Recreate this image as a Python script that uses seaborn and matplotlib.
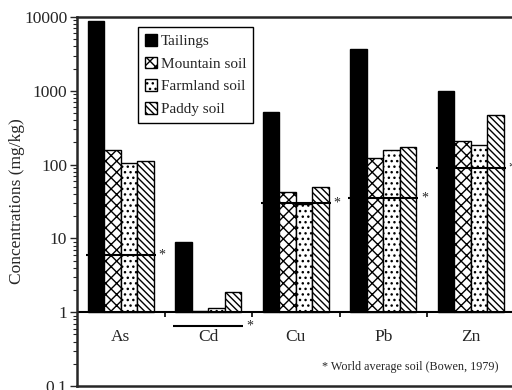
import matplotlib
matplotlib.use("Agg")
import matplotlib.pyplot as plt
import seaborn as sns
import pandas as pd
import numpy as np

elements = ["As", "Cd", "Cu", "Pb", "Zn"]
sources = ["Tailings", "Mountain soil", "Farmland soil", "Paddy soil"]
tailings = [8800, 8.9, 520, 3650, 1000]
mountain = [156, 1.05, 42, 123, 207]
farmland = [105, 1.15, 29, 156, 182]
paddy = [111, 1.9, 49, 171, 464]
world_avg = [6, 0.65, 30, 35, 90]
yticks = [0.1, 1, 10, 100, 1000, 10000]
ytick_labels = ["0.1", "1", "10", "100", "1000", "10000"]

sns.set_style("ticks")
plt.rcParams["font.family"] = ["Liberation Serif", "DejaVu Serif"]
plt.rcParams["hatch.linewidth"] = 1.0

rows = []
for name, vals in zip(sources, [tailings, mountain, farmland, paddy]):
    for el, v in zip(elements, vals):
        rows.append({"element": el, "source": name, "value": v, "above": v - 1.0})
df = pd.DataFrame(rows)

fig = plt.figure(figsize=(5.12, 3.9), dpi=100)
ax = fig.add_axes([77 / 512, 4 / 390, 437.5 / 512, 369 / 390])

fills = ["black", "white", "white", "white"]
sns.barplot(data=df, x="element", y="above", hue="source", order=elements,
            hue_order=sources, palette=fills, width=0.75, bottom=1.0,
            edgecolor="black", linewidth=1.0, saturation=1, legend=False, ax=ax)
ax.set_yscale("log")
hatches = [None, "xxx", "...", "\\\\\\\\\\"]
for cont, h in zip(ax.containers, hatches):
    for p in cont:
        if h:
            p.set_hatch(h)

ax.set_ylim(0.1, 10000)
ax.set_xlim(-0.5, 4.5)
ax.set_yticks(yticks)
ax.set_yticklabels(ytick_labels, fontsize=12.5)
ax.tick_params(axis="y", which="major", length=5, width=1, direction="out", pad=2)
ax.tick_params(axis="y", which="minor", length=3, width=0.8, direction="out")
ax.set_xticks([])
ax.set_xlabel("")
ax.set_ylabel("Concentrations (mg/kg)", fontsize=12.5)
ax.yaxis.set_label_coords(-0.118, 0.5)
for s in ["left", "top", "bottom", "right"]:
    ax.spines[s].set_linewidth(1.8)
    ax.spines[s].set_visible(True)

# baseline at 1 with group-separator ticks
ax.axhline(1, color="black", lw=1.5)
ax.vlines([0.5, 1.5, 2.5, 3.5], 0.86, 1.0, color="black", lw=1.2)
for i, el in enumerate(elements):
    ax.text(i, 0.46, el, ha="center", va="center", fontsize=12.5)

# world average markers
for i, w in enumerate(world_avg):
    ax.hlines(w, i - 0.4, i + 0.4, color="black", lw=1.5)
    ax.text(i + 0.47, w, "*", ha="center", va="center", fontsize=10)

ax.text(2.3, 0.18, "* World average soil (Bowen, 1979)", ha="left",
        va="center", fontsize=8.7)

handles = [cont[0] for cont in ax.containers]
leg = ax.legend(handles, sources, loc="upper left", bbox_to_anchor=(0.139, 0.972),
                fontsize=11, frameon=True, fancybox=False, edgecolor="black",
                handlelength=0.8, handleheight=0.8, handletextpad=0.25,
                labelspacing=0.55, borderpad=0.45, borderaxespad=0)
leg.get_frame().set_linewidth(1.0)
leg.get_frame().set_alpha(1)

fig.savefig("out.png", dpi=100)
